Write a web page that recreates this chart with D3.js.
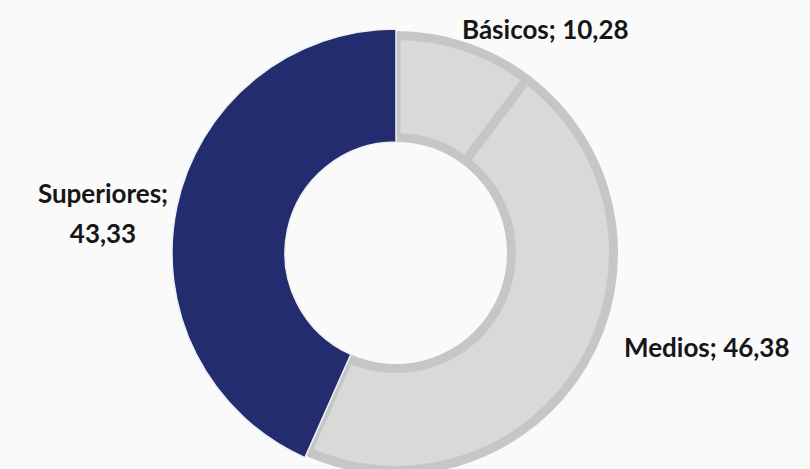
<!DOCTYPE html>
<html>
<head>
<meta charset="utf-8">
<script src="https://cdn.jsdelivr.net/npm/d3@7"></script>
<style>
  html, body { margin: 0; padding: 0; background: #fafafa; }
  svg { display: block; }
  text { font-family: Lato, "Open Sans", sans-serif; font-weight: 700; fill: #161616; }
</style>
</head>
<body>
<div id="chart"></div>
<script>
var categories = ["Básicos", "Medios", "Superiores"];
var values = [10.28, 46.38, 43.33];
var valueLabels = ["10,28", "46,38", "43,33"];

var DonutModule = (() => {

    const width = 810,
        height = 469,
        cx = 396,
        cy = 253,
        outerR = 224,
        innerR = 111,
        strokeW = 9;

    const colors = d3.scaleOrdinal()
        .domain(categories)
        .range(["#d9d9d9", "#d9d9d9", "#222c6e"]);

    const dataset = categories.map((name, i) => ({
        name: name,
        value: values[i],
        label: valueLabels[i]
    }));

    const pie = d3.pie()
        .sort(null)
        .value(d => d.value);

    const arcs = pie(dataset);

    // grey slices are inset so that their thick border stays inside the ring
    const greyArc = d3.arc()
        .innerRadius(innerR + strokeW / 2)
        .outerRadius(outerR - strokeW / 2 - 2);

    const darkArc = d3.arc()
        .innerRadius(innerR)
        .outerRadius(outerR);

    const svg = d3.select("#chart")
        .append("svg")
        .attr("width", width)
        .attr("height", height);

    const g = svg.append("g")
        .attr("transform", `translate(${cx},${cy})`);

    g.selectAll("path.grey")
        .data(arcs.filter(d => d.data.name !== "Superiores"))
        .join("path")
        .attr("class", "grey")
        .attr("d", greyArc)
        .attr("fill", d => colors(d.data.name))
        .attr("stroke", "#c6c6c6")
        .attr("stroke-width", strokeW)
        .attr("stroke-linejoin", "round");

    g.selectAll("path.dark")
        .data(arcs.filter(d => d.data.name === "Superiores"))
        .join("path")
        .attr("class", "dark")
        .attr("d", darkArc)
        .attr("fill", d => colors(d.data.name))
        .attr("stroke", "#eef0f6")
        .attr("stroke-width", 1.5);

    // labels
    const labelPos = {
        "Básicos": {x: 462, y: 39, anchor: "start"},
        "Medios": {x: 624, y: 357, anchor: "start"},
        "Superiores": {x: 103, y: 203, anchor: "middle"}
    };

    const labels = svg.append("g")
        .selectAll("text")
        .data(dataset)
        .join("text")
        .attr("x", d => labelPos[d.name].x)
        .attr("y", d => labelPos[d.name].y)
        .attr("text-anchor", d => labelPos[d.name].anchor)
        .attr("font-size", 26);

    labels.each(function(d) {
        const t = d3.select(this);
        if (d.name === "Superiores") {
            t.append("tspan").text(d.name + ";");
            t.append("tspan")
                .attr("x", labelPos[d.name].x)
                .attr("dy", 40)
                .text(d.label);
        } else {
            t.text(d.name + "; " + d.label);
        }
    });

})();
</script>
</body>
</html>
